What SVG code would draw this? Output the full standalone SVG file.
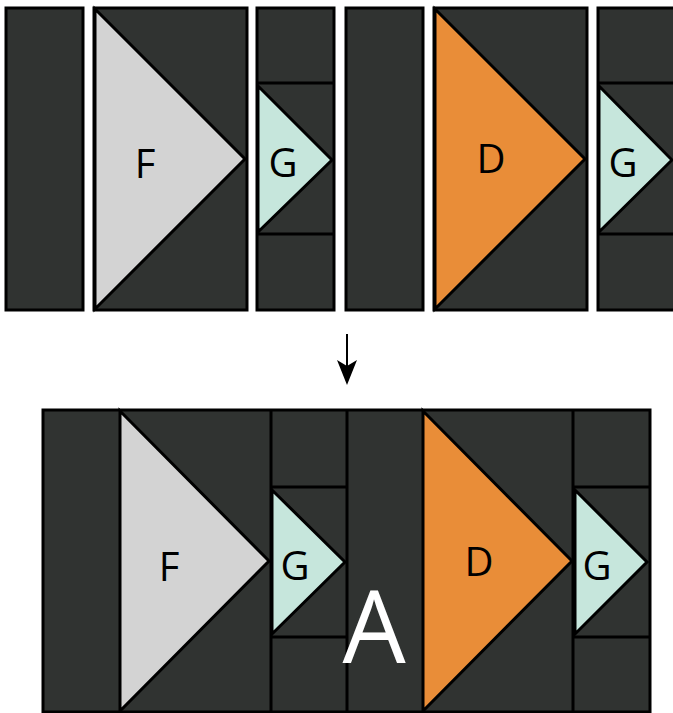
<svg xmlns="http://www.w3.org/2000/svg" width="673" height="713" viewBox="0 0 673 713">
<defs>
<style>
.dk{fill:#303331;stroke:#000;stroke-width:3}
.ln{fill:none;stroke:#000;stroke-width:3}
.tf{fill:#d3d3d3;stroke:#000;stroke-width:3;stroke-linejoin:miter}
.tg{fill:#c6e6dc;stroke:#000;stroke-width:3}
.td{fill:#e98d38;stroke:#000;stroke-width:3}
.lb{font-family:"Open Sans","Liberation Sans",sans-serif;font-size:40px;fill:#000;text-anchor:middle}
</style>
</defs>
<rect width="673" height="713" fill="#fff"/>
<g id="top">
  <g id="t1"><rect class="dk" x="6" y="8" width="77" height="302"/></g>
  <g id="t2"><rect class="dk" x="94" y="8" width="153" height="302"/>
    <polygon class="tf" points="95,9 245,159 95,309"/>
    <text class="lb" x="145" y="178">F</text></g>
  <g id="t3"><rect class="dk" x="257" y="8" width="77" height="302"/>
    <line class="ln" x1="257" y1="83" x2="334" y2="83"/>
    <line class="ln" x1="257" y1="234" x2="334" y2="234"/>
    <polygon class="tg" points="258,86 332,160 258,232"/>
    <text class="lb" x="283" y="177">G</text></g>
  <g id="t4"><rect class="dk" x="346" y="8" width="77" height="302"/></g>
  <g id="t5"><rect class="dk" x="434" y="8" width="153" height="302"/>
    <polygon class="td" points="435,9 585,159 435,309"/>
    <text class="lb" x="491" y="173">D</text></g>
  <g id="t6"><rect class="dk" x="598" y="8" width="80" height="302"/>
    <line class="ln" x1="598" y1="83" x2="678" y2="83"/>
    <line class="ln" x1="598" y1="234" x2="678" y2="234"/>
    <polygon class="tg" points="599,86 672,160 599,232"/>
    <text class="lb" x="623" y="177">G</text></g>
</g>
<g id="connectors">
  <line x1="347" y1="334" x2="347" y2="368" stroke="#000" stroke-width="2"/>
  <path d="M337,360 L347,385 L357,360 L347,366 Z" fill="#000"/>
</g>
<g id="bottom">
  <g id="b0"><rect class="dk" x="43" y="410" width="607" height="302"/></g>
  <g id="b1">
    <line class="ln" x1="271" y1="410" x2="271" y2="712"/>
    <line class="ln" x1="347" y1="410" x2="347" y2="712"/>
    <line class="ln" x1="573" y1="410" x2="573" y2="712"/>
    <line class="ln" x1="271" y1="487" x2="347" y2="487"/>
    <line class="ln" x1="271" y1="637" x2="347" y2="637"/>
    <line class="ln" x1="573" y1="487" x2="650" y2="487"/>
    <line class="ln" x1="573" y1="637" x2="650" y2="637"/>
  </g>
  <g id="bF"><polygon class="tf" points="120,411 269,561 120,711"/>
    <text class="lb" x="169" y="581">F</text></g>
  <g id="bG1"><polygon class="tg" points="272,490 345,562 272,634"/>
    <text class="lb" x="295" y="580">G</text></g>
  <g id="bD"><polygon class="td" points="423,411 572,561 423,711"/>
    <text class="lb" x="479" y="576">D</text></g>
  <g id="bG2"><polygon class="tg" points="575,490 647,562 575,634"/>
    <text class="lb" x="597" y="580">G</text></g>
  <g id="bA"><text x="374" y="663" font-family="Open Sans, Liberation Sans, sans-serif" font-size="100" fill="#fff" text-anchor="middle">A</text></g>
</g>
</svg>
